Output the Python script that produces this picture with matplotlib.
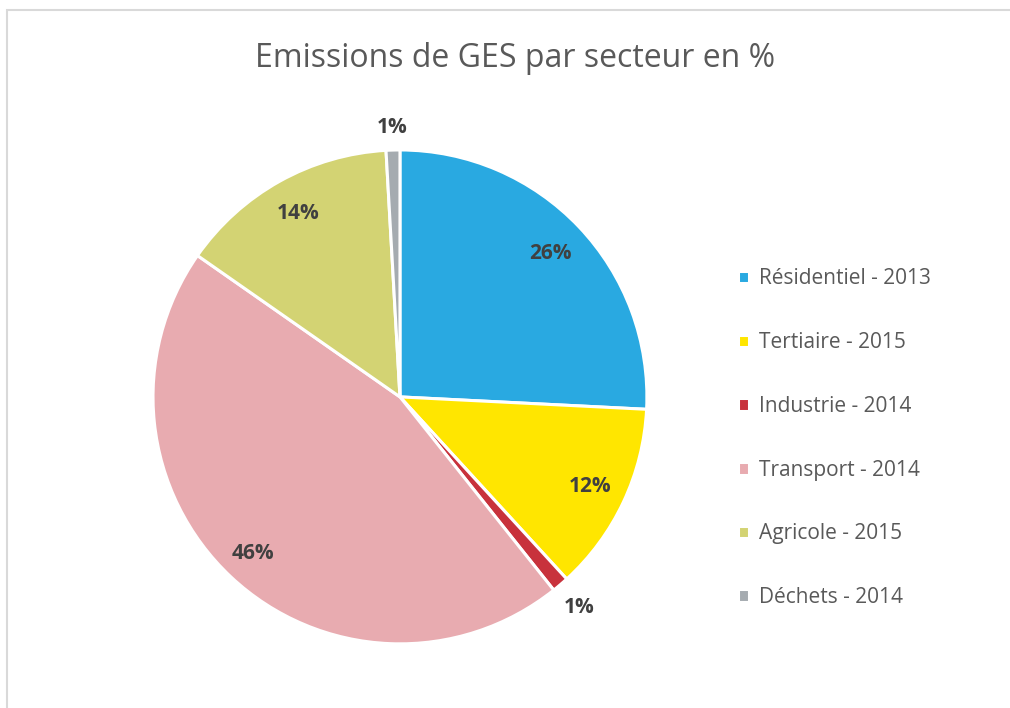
import numpy as np
import matplotlib.pyplot as plt
from matplotlib.patches import Rectangle

# Données
secteurs = ['Résidentiel - 2013', 'Tertiaire - 2015', 'Industrie - 2014',
            'Transport - 2014', 'Agricole - 2015', 'Déchets - 2014']
parts = [25.8, 12.4, 1.1, 45.4, 14.4, 0.9]
etiquettes = ['26%', '12%', '1%', '46%', '14%', '1%']
couleurs = ['#29a9e1', '#ffe600', '#c8323c', '#e8abb0', '#d3d373', '#a5abb0']
dist_etiq = [0.84, 0.85, 1.12, 0.87, 0.85, 1.09]

plt.rcParams['font.family'] = ['Open Sans', 'DejaVu Sans']

fig = plt.figure(figsize=(10.1, 7.08), dpi=100)

# cadre du graphique
fig.patches.append(Rectangle((7 / 1010, -0.05), 1.05, 1 - 10 / 708 + 0.05,
                             transform=fig.transFigure, fill=False,
                             edgecolor='#d9d9d9', linewidth=1.5))

ax = fig.add_axes([0.1515, 0.0904, 0.489, 0.698])
wedges, _ = ax.pie(parts, colors=couleurs, startangle=90, counterclock=False,
                   wedgeprops=dict(edgecolor='white', linewidth=2.2))
ax.set_xlim(-1, 1)
ax.set_ylim(-1, 1)
ax.set_aspect('equal')

for w, txt, d in zip(wedges, etiquettes, dist_etiq):
    ang = np.deg2rad((w.theta1 + w.theta2) / 2)
    ax.text(d * np.cos(ang), d * np.sin(ang), txt, ha='center', va='center',
            fontsize=15, fontweight='bold', color='#404040')

fig.text(0.51, 0.918, 'Emissions de GES par secteur en %', ha='center',
         va='center', fontsize=23, color='#595959')

fig.legend(wedges, secteurs, loc='center left', bbox_to_anchor=(0.712, 0.381),
           frameon=False, fontsize=15, labelcolor='#595959',
           handlelength=0.55, handleheight=0.55, handletextpad=0.45,
           labelspacing=2.05)

fig.savefig('out.png', dpi=100)
